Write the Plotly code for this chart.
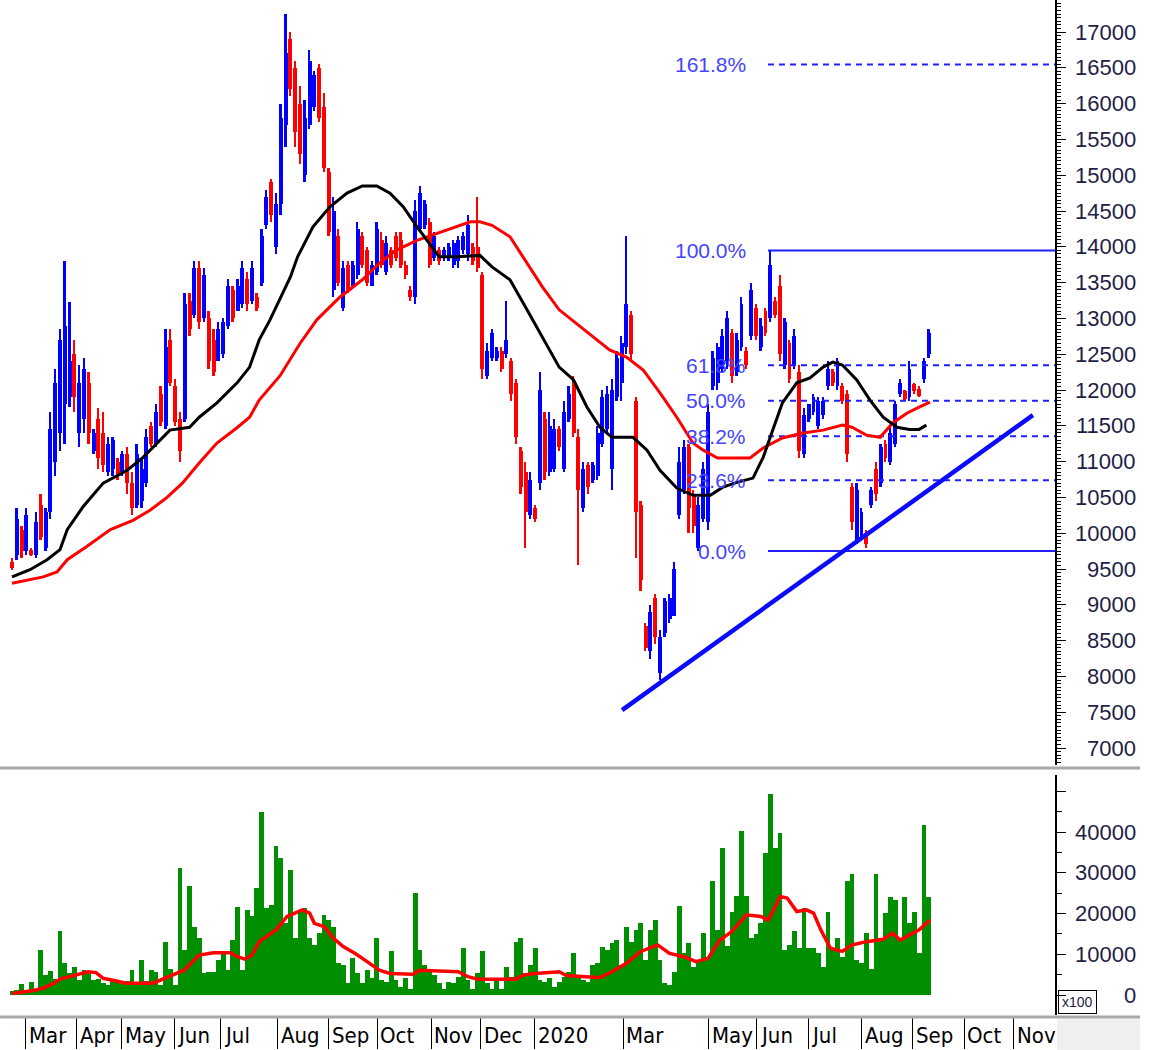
import plotly.graph_objects as go

# ---------------- data (trading-day index) ----------------
bar_day = list(range(0, 384, 2))

opens = [
    9600, 9700, 10050, 9750, 9760, 9700, 10400, 9800, 10300, 11000,
    11400, 11800, 11900, 12500, 11400, 11600, 12100, 11150, 11600, 11400,
    10850, 10900, 11000, 10850, 11100, 10700, 10400, 10450, 10700, 11500,
    11250, 11950, 11500, 12700, 12050, 11600, 11600, 13250, 13050, 13700,
    13000, 13000, 12700, 12400, 12500, 12900, 13400, 13100, 13200, 13550,
    13250, 13300, 13500, 14300, 14900, 14000, 14600, 15700, 16900, 16500,
    16000, 15000, 15700, 15950, 16500, 15950, 15050, 13400, 14150, 13150,
    13750, 13450, 13600, 14150, 13950, 13450, 13650, 14100, 13650, 13950,
    14150, 14100, 13750, 13400, 13300, 14250, 14300, 14350, 13850, 13950,
    13850, 13850, 13750, 13800, 13950, 13900, 14000, 14000, 13600, 12200,
    12450, 12450, 12550, 12500, 12400, 12100, 11150, 10850, 10250, 10350,
    10700, 11600, 10850, 10900, 11450, 10900, 11600, 12100, 11350, 10350,
    10950, 10750, 10800, 11250, 11450, 10900, 11900, 12100, 12600, 13050,
    11850, 10400, 8700, 8350, 9100, 8050, 8600, 8800, 8850, 10250,
    10600, 11200, 10550, 9800, 10200, 10150, 12050, 12100, 12300, 12400,
    12800, 12250, 12600, 12550, 12750, 13150, 12600, 13100, 13000, 13250,
    13450, 12350, 12650, 12350, 12250, 11100, 11600, 11700, 11500, 11650,
    12050, 12250, 12050, 12050, 11950, 10650, 9900, 9950, 10000, 10400,
    10900, 10700, 11250, 11000, 11250, 11950, 11980, 11900, 12080, 12020,
    12150, 12500,
]
highs = [
    9650, 10350, 10100, 10350, 9800, 10300, 10550, 10350, 11700, 12300,
    12850, 13800, 13230, 12700, 12350, 12450, 12250, 11450, 11750, 11700,
    11350, 11350, 11050, 11150, 11200, 10850, 11250, 11050, 11450, 11550,
    11800, 12050, 12850, 12850, 12150, 11700, 13350, 13350, 13800, 13800,
    13700, 13100, 12850, 12950, 13000, 13550, 13450, 13550, 13800, 13650,
    13800, 13350, 14250, 14800, 14950, 14750, 16000, 17250, 17000, 16600,
    16250, 16050, 16750, 16450, 16550, 16150, 15100, 14700, 14250, 13800,
    13800, 13800, 14350, 14200, 14000, 13800, 14350, 14200, 14150, 14000,
    14200, 14200, 13800, 13450, 14650, 14850, 14650, 14400, 14200, 14000,
    14000, 14050, 14100, 14150, 14200, 14450, 14050, 14700, 13650, 12650,
    12850, 12600, 12600, 13250, 12450, 12150, 11200, 11000, 10850, 10400,
    12250, 11700, 11700, 11600, 11500, 11850, 12050, 12200, 11450, 11000,
    11000, 11000, 11500, 12000, 12050, 12150, 12550, 12750, 14150, 13100,
    11900, 10450, 8750, 9000, 9150, 8650, 9100, 9150, 9600, 11200,
    11300, 11250, 10600, 10500, 11000, 11800, 12550, 12650, 12850, 13100,
    12850, 12800, 13300, 12600, 13500, 13200, 13000, 13150, 13950, 13300,
    13600, 13000, 12700, 12850, 12350, 11750, 11800, 11950, 11900, 11900,
    12400, 12300, 12450, 12100, 12000, 10700, 10700, 10350, 10050, 10650,
    11000, 11250, 11300, 11500, 11850, 12150, 12000, 12400, 12100, 12050,
    12450, 12850,
]
lows = [
    9480, 9630, 9650, 9700, 9680, 9650, 9900, 9750, 10200, 10800,
    11150, 11250, 11760, 11700, 11200, 11400, 11250, 11100, 10900, 10850,
    10800, 10800, 10750, 10800, 10550, 10250, 10350, 10350, 10650, 11200,
    11200, 11500, 11450, 12050, 11500, 11000, 11550, 12750, 13000, 12850,
    12950, 12300, 12200, 12400, 12450, 12850, 12950, 13100, 13150, 13100,
    13200, 13100, 13450, 14250, 14350, 13900, 14450, 15400, 16100, 15400,
    15150, 14900, 15650, 15900, 15750, 15050, 14150, 13300, 13450, 13100,
    13350, 13450, 13550, 13700, 13450, 13450, 13600, 13700, 13600, 13700,
    13800, 13700, 13550, 13250, 13200, 14200, 14250, 13700, 13800, 13750,
    13800, 13800, 13700, 13700, 13900, 13800, 13750, 13650, 12150, 12150,
    12400, 12400, 12250, 12450, 11850, 11250, 10550, 9800, 10200, 10150,
    10600, 10750, 10800, 10850, 11150, 10850, 11550, 11350, 9550, 10300,
    10550, 10700, 10750, 11200, 11400, 10600, 11850, 11850, 12500, 12400,
    9650, 9200, 8350, 8250, 8450, 7950, 8550, 8750, 8850, 10200,
    10550, 10000, 10000, 9750, 10150, 10050, 12000, 12000, 12250, 12300,
    12100, 12200, 12550, 12300, 12700, 12700, 12550, 12750, 12950, 13000,
    12400, 12300, 12100, 12300, 11050, 11050, 11550, 11650, 11450, 11600,
    12000, 12050, 12000, 11800, 11000, 10050, 9850, 9900, 9800, 10350,
    10450, 10650, 11000, 10950, 11200, 11900, 11850, 11850, 11950, 11900,
    12100, 12450,
]
closes = [
    9520, 10200, 9750, 10250, 9700, 10150, 9950, 10300, 11450, 12100,
    12700, 12900, 12400, 11900, 12100, 12300, 11400, 11400, 11050, 10950,
    11250, 11300, 10800, 11100, 10700, 10350, 11100, 10900, 11350, 11250,
    11700, 11550, 12600, 12100, 11550, 11150, 13200, 12850, 13700, 12950,
    13600, 12400, 12250, 12850, 12950, 13450, 13000, 13450, 13700, 13200,
    13700, 13150, 14150, 14700, 14450, 14600, 15800, 16700, 16200, 15600,
    15300, 15800, 16600, 16400, 15800, 15100, 14200, 14500, 13500, 13700,
    13400, 13750, 14250, 13750, 13500, 13750, 14250, 13750, 14050, 13750,
    13850, 13750, 13600, 13300, 14500, 14750, 14600, 13750, 14150, 13800,
    13950, 14000, 14050, 14100, 14150, 14300, 13800, 13700, 12300, 12550,
    12800, 12550, 12300, 12700, 11950, 11350, 10650, 10300, 10750, 10200,
    12000, 10850, 11500, 11450, 11200, 11700, 11950, 11400, 10600, 10900,
    10650, 10950, 11400, 11900, 11950, 12000, 12450, 12650, 13200, 12500,
    10300, 9350, 8400, 8900, 8550, 8550, 9050, 9100, 9500, 11000,
    11200, 10350, 10100, 10400, 10900, 11700, 12450, 12600, 12750, 13000,
    12200, 12700, 13200, 12350, 13400, 12750, 12900, 12800, 13750, 13050,
    12500, 12950, 12150, 12750, 11150, 11650, 11800, 11900, 11850, 11850,
    12300, 12100, 12400, 11850, 11100, 10150, 10600, 10300, 9850, 10600,
    10550, 11200, 11050, 11400, 11800, 12100, 11880, 12300, 11980, 11920,
    12400, 12800,
]
volumes = [
    1000, 1200, 2700, 1200, 3300, 1500, 11000, 5000, 6000, 4000,
    15600, 7800, 5500, 7000, 3700, 6100, 5700, 3700, 4000, 3000,
    2500, 4000, 3500, 2800, 3500, 6100, 3000, 8600, 3500, 6100,
    5700, 2500, 13100, 6500, 2500, 31100, 11000, 26800, 16800, 14000,
    5300, 5700, 5700, 8600, 10200, 6100, 13500, 21500, 6100, 20900,
    19300, 26200, 45000, 21300, 22100, 36600, 33600, 17600, 30700, 14000,
    20500, 21300, 14000, 12300, 15200, 19700, 18400, 16800, 7800, 7400,
    3000, 9000, 5300, 2900, 6100, 4100, 13900, 3700, 3300, 10700,
    3700, 2000, 4100, 1600, 25000, 11000, 7400, 6500, 4900, 2900,
    1600, 3300, 2900, 4500, 11500, 3700, 1600, 5300, 10700, 2900,
    1600, 3700, 1600, 7000, 4500, 13100, 13900, 5300, 7400, 11500,
    3700, 3300, 4100, 2000, 3300, 4500, 5700, 10200, 4500, 3700,
    3300, 7400, 7800, 11900, 11000, 12700, 13500, 7400, 16800, 13100,
    16000, 17600, 8600, 16000, 18400, 8600, 2900, 2500, 5700, 21900,
    10200, 12700, 7000, 8200, 15200, 9400, 27900, 16000, 36200, 12000,
    20500, 24200, 40200, 24200, 14000, 15000, 17600, 34800, 49400, 36100,
    39800, 11000, 12300, 15600, 11500, 21300, 11500, 11500, 10200, 7000,
    20500, 11500, 14000, 9400, 27900, 29800, 8600, 7800, 15200, 6500,
    29800, 14000, 20100, 24000, 23300, 14000, 24000, 17600, 20500, 10200,
    41800, 24000,
]

black_ma_day = [0, 7.5, 14.6, 20, 23, 29.6, 38, 48, 54.6, 60.4, 65.8, 74, 78, 85.4, 93.8,
                99, 103, 107.5, 116, 119, 125.4, 132.5, 139.6, 146, 152, 157.5, 163, 168.75,
                174, 178, 185, 195, 200, 207.5, 214.6, 221, 228, 234, 239.6, 245, 250, 258.75,
                264.6, 270, 277, 283.75, 291, 296, 302, 308.75, 313, 317, 321, 327, 332.5, 338,
                342, 346, 352, 357.5, 363, 368.75, 374, 378, 381]
black_ma = [9390, 9490, 9630, 9770, 10050, 10370, 10700, 10880, 11060, 11260, 11440, 11480,
            11620, 11820, 12100, 12320, 12700, 12980, 13580, 13860, 14280, 14560, 14750, 14850,
            14850, 14750, 14560, 14280, 14050, 13860, 13860, 13880, 13720, 13540, 13120, 12740,
            12320, 12140, 11760, 11480, 11340, 11340, 11160, 10880, 10630, 10530, 10530, 10640,
            10710, 10770, 11060, 11440, 11820, 12100, 12170, 12320, 12390, 12350, 12140, 11860,
            11620, 11480, 11450, 11450, 11510]

red_ma_day = [0, 13, 18.75, 23, 31, 41, 50.4, 57.5, 64.6, 71, 78, 85.4, 94, 99, 103, 111.7,
              120, 127, 136.7, 146, 153, 160, 168.75, 177, 185, 191, 195, 200, 207.5, 214.6,
              221, 228, 235, 242, 249, 256, 263, 270, 277, 283.75, 288, 294, 307.5, 313, 321,
              329.6, 338, 346, 350, 356, 361.7, 367, 373, 378, 382.5]
red_ma = [9300, 9390, 9460, 9630, 9810, 10050, 10180, 10320, 10500, 10700, 10980, 11260,
          11480, 11620, 11860, 12200, 12650, 12980, 13300, 13540, 13770, 13950, 14090, 14190,
          14280, 14350, 14350, 14300, 14140, 13770, 13440, 13120, 12930, 12740, 12560, 12460,
          12280, 11960, 11620, 11260, 11160, 11050, 11050, 11190, 11330, 11400, 11440, 11510,
          11480, 11370, 11340, 11540, 11680, 11760, 11830]

vol_ma_day = [0, 9, 12.5, 17.5, 20, 25.4, 31.7, 35, 38, 43, 47.5, 58.75, 65, 71.7, 78, 84, 91,
              94, 97, 100, 103, 110, 114.6, 121, 124, 126, 130, 134, 138, 143, 148, 153, 157.5,
              167, 170, 178, 186, 190, 194, 202, 210, 213, 218, 228, 231, 239, 245, 250, 256,
              262, 269, 274, 280, 285, 290, 295, 300, 306, 312, 315, 317, 320, 323, 327, 331,
              334, 337, 341, 346, 350, 356, 363, 367, 370, 374, 378, 382.5]
vol_ma = [400, 1100, 1600, 2900, 3900, 4700, 5700, 5500, 4100, 3500, 2900, 2900, 4500, 6100,
          9800, 10400, 10400, 9400, 8800, 9800, 13100, 16000, 19300, 20900, 20100, 17600, 16800,
          13900, 11900, 10200, 8200, 6100, 5300, 5100, 6100, 5900, 5700, 4500, 3900, 3900, 3900,
          4900, 5300, 5700, 4800, 4500, 4300, 5700, 7800, 10700, 12300, 10200, 9400, 8200, 9000,
          13500, 15600, 19700, 19300, 18400, 20500, 24200, 23800, 20500, 20900, 20100, 16000,
          11500, 10700, 12300, 13100, 13700, 15200, 13500, 14800, 16000, 18400]

month_day = [5.8, 26.7, 45.8, 67.5, 86.7, 110.8, 131.7, 152.1, 174.6, 195.4, 217.9,
             254.6, 290.4, 310.4, 331.7, 353.8, 375.4, 396.7, 417.5]
month_labels = ["Mar", "Apr", "May", "Jun", "Jul", "Aug", "Sep", "Oct", "Nov", "Dec", "2020",
                "Mar", "May", "Jun", "Jul", "Aug", "Sep", "Oct", "Nov"]

price_tick_values = [7000, 7500, 8000, 8500, 9000, 9500, 10000, 10500, 11000, 11500, 12000,
                     12500, 13000, 13500, 14000, 14500, 15000, 15500, 16000, 16500, 17000]
volume_tick_values = [0, 10000, 20000, 30000, 40000]

fib_low = 9750
fib_high = 13950
fib_start_day = 315
fib_ratios = [0.0, 0.236, 0.382, 0.5, 0.618, 1.0, 1.618]
fib_labels = ["0.0%", "23.6%", "38.2%", "50.0%", "61.8%", "100.0%", "161.8%"]

trend_day = [254.2, 425.4]
trend_price = [7530, 11650]

# ---------------- geometry ----------------
W, H = 1152, 1050
ML, MR, MT, MB = 8, 97, 0, 35
PLOT_W = W - ML - MR
PLOT_H = H - MT - MB
X_RANGE = [-1.67, 434.6]
PRICE_RANGE = [6763, 17447]
VOL_RANGE = [-4900, 54000]


def px_to_paper_y(py):
    return (PLOT_H - (py - MT)) / PLOT_H


def px_to_paper_x(px):
    return (px - ML) / PLOT_W


BLUE = "#0000ff"
RED = "#ff0000"
GREEN = "#008f00"
TICK_FONT = dict(family="Liberation Sans, Arial, sans-serif", size=22, color="#1e1e46")

fig = go.Figure()

# volume bars
fig.add_trace(go.Bar(x=bar_day, y=volumes, width=1.95, marker=dict(color=GREEN, line=dict(width=0)),
                     xaxis="x", yaxis="y2"))
fig.add_trace(go.Scatter(x=vol_ma_day, y=vol_ma, mode="lines", line=dict(color=RED, width=3.5),
                         xaxis="x", yaxis="y2"))

# price bars (wick + body)
bar_colors = [BLUE if c >= o else RED for o, c in zip(opens, closes)]
wick_len = [h - l for h, l in zip(highs, lows)]
body_base = [min(o, c) for o, c in zip(opens, closes)]
body_len = [max(abs(c - o), 40) for o, c in zip(opens, closes)]
fig.add_trace(go.Bar(x=bar_day, y=wick_len, base=lows, width=0.75,
                     marker=dict(color=bar_colors, line=dict(width=0)), xaxis="x", yaxis="y"))
fig.add_trace(go.Bar(x=bar_day, y=body_len, base=body_base, width=1.6,
                     marker=dict(color=bar_colors, line=dict(width=0)), xaxis="x", yaxis="y"))

# fibonacci levels
for r, lab in zip(fib_ratios, fib_labels):
    lvl = fib_low + r * (fib_high - fib_low)
    solid = r in (0.0, 1.0)
    fig.add_trace(go.Scatter(x=[fib_start_day, X_RANGE[1]], y=[lvl, lvl], mode="lines",
                             line=dict(color="#1f1fff", width=2, dash="solid" if solid else "6px,5px"),
                             xaxis="x", yaxis="y"))

# moving averages
fig.add_trace(go.Scatter(x=red_ma_day, y=red_ma, mode="lines", line=dict(color=RED, width=3),
                         xaxis="x", yaxis="y"))
fig.add_trace(go.Scatter(x=black_ma_day, y=black_ma, mode="lines", line=dict(color="#000000", width=3),
                         xaxis="x", yaxis="y"))

# trend line
fig.add_trace(go.Scatter(x=trend_day, y=trend_price, mode="lines", line=dict(color="#0a0aff", width=4.5),
                         xaxis="x", yaxis="y"))

annotations = []
for r, lab in zip(fib_ratios, fib_labels):
    lvl = fib_low + r * (fib_high - fib_low)
    annotations.append(dict(x=306.7, y=lvl, xref="x", yref="y", text=lab, showarrow=False,
                            xanchor="right", yanchor="middle",
                            font=dict(family="Liberation Sans, Arial, sans-serif", size=21,
                                      color="#4444ff")))
label_x = px_to_paper_x(1138)
for v in price_tick_values:
    annotations.append(dict(x=label_x, y=v, xref="paper", yref="y", text=str(v), showarrow=False,
                            xanchor="right", yanchor="middle", font=TICK_FONT))
for v in volume_tick_values:
    annotations.append(dict(x=label_x, y=v, xref="paper", yref="y2", text=str(v), showarrow=False,
                            xanchor="right", yanchor="middle", font=TICK_FONT))
for d, lab in zip(month_day, month_labels):
    annotations.append(dict(x=d + 0.6, y=px_to_paper_y(1035), xref="x", yref="paper", text=lab,
                            showarrow=False, xanchor="left", yanchor="middle",
                            font=dict(family="Liberation Sans Narrow, DejaVu Sans Condensed, Arial Narrow, sans-serif",
                                      size=22, color="#000000")))
annotations.append(dict(x=px_to_paper_x(1058), y=px_to_paper_y(1014), xref="paper", yref="paper",
                        text="x100", showarrow=False, xanchor="left", yanchor="bottom",
                        bordercolor="#000000", borderwidth=1, borderpad=3,
                        font=dict(family="Liberation Sans, Arial, sans-serif", size=14, color="#1e1e46")))

shapes = [
    # separator between panels
    dict(type="line", xref="paper", yref="paper", x0=px_to_paper_x(0), x1=px_to_paper_x(1140),
         y0=px_to_paper_y(768), y1=px_to_paper_y(768), line=dict(color="#a8a8a8", width=3)),
    # bottom axis bar
    dict(type="line", xref="paper", yref="paper", x0=px_to_paper_x(0), x1=px_to_paper_x(1140),
         y0=px_to_paper_y(1017), y1=px_to_paper_y(1017), line=dict(color="#a8a8a8", width=3)),
    # bottom-right corner box
    dict(type="rect", xref="paper", yref="paper", x0=px_to_paper_x(1057), x1=px_to_paper_x(1140),
         y0=px_to_paper_y(1050), y1=px_to_paper_y(1019), fillcolor="#efefef", line=dict(width=0),
         layer="below"),
]

fig.update_layout(
    width=W, height=H, margin=dict(l=ML, r=MR, t=MT, b=MB, pad=0),
    paper_bgcolor="white", plot_bgcolor="white", showlegend=False, hovermode=False,
    barmode="overlay", bargap=0,
    xaxis=dict(range=X_RANGE, anchor="y2", showgrid=False, zeroline=False, showline=False,
               tickmode="array", tickvals=month_day, ticks="outside", ticklen=33, tickwidth=1,
               tickcolor="#000000", showticklabels=False, fixedrange=True),
    yaxis=dict(domain=[px_to_paper_y(765), 1.0], range=PRICE_RANGE, side="right", anchor="x",
               showgrid=False, zeroline=False, showline=True, linecolor="#000000", linewidth=2,
               tickmode="linear", tick0=7000, dtick=500, ticks="outside", ticklen=9, tickwidth=1,
               tickcolor="#000000", showticklabels=False,
               minor=dict(tickmode="linear", tick0=7000, dtick=50, ticks="outside", ticklen=4,
                          tickwidth=1, tickcolor="#000000", showgrid=False)),
    yaxis2=dict(domain=[0.0, px_to_paper_y(775)], range=VOL_RANGE, side="right", anchor="x",
                showgrid=False, zeroline=False, showline=True, linecolor="#000000", linewidth=2,
                tickmode="linear", tick0=0, dtick=10000, ticks="outside", ticklen=9, tickwidth=1,
                tickcolor="#000000", showticklabels=False,
                minor=dict(tickmode="linear", tick0=0, dtick=5000, ticks="outside", ticklen=5,
                           tickwidth=1, tickcolor="#000000", showgrid=False)),
    annotations=annotations, shapes=shapes,
)

fig.write_html("out.html", config={"displayModeBar": False})
